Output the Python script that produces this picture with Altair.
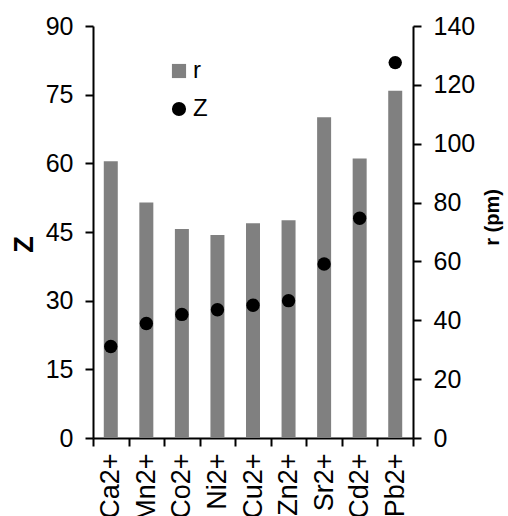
import altair as alt
import pandas as pd

# Divalent metal ions: ionic radius r (pm, bars) and atomic number Z (dots)
ions = ["Ca2+", "Mn2+", "Co2+", "Ni2+", "Cu2+", "Zn2+", "Sr2+", "Cd2+", "Pb2+"]
radius_pm = [94, 80, 71, 69, 73, 74, 109, 95, 118]
atomic_number = [20, 25, 27, 28, 29, 30, 38, 48, 82]

z_ticks = [0, 15, 30, 45, 60, 75, 90]
r_ticks = [0, 20, 40, 60, 80, 100, 120, 140]

series_names = ["r", "Z"]
series_colors = ["#808080", "#000000"]
series_shapes = ["square", "circle"]

df = pd.DataFrame({"ion": ions, "r": radius_pm, "Z": atomic_number})

FONT = "Liberation Sans"


def series_legend():
    # one shared legend for the bar and dot series, placed inside the plot
    return alt.Legend(
        title=None,
        orient="none",
        legendX=74,
        legendY=33,
        symbolSize=200,
        symbolStrokeWidth=0,
        labelFontSize=24,
        labelOffset=2,
        rowPadding=14,
        padding=0,
    )


x_enc = alt.X(
    "ion:N",
    sort=ions,
    title=None,
    scale=alt.Scale(paddingInner=0, paddingOuter=0),
    axis=alt.Axis(
        tickBand="extent",
        labelAngle=-90,
        labelFontSize=27,
        labelPadding=7,
        tickSize=8,
        tickWidth=2,
        domainWidth=2,
    ),
)

color_enc = alt.Color(
    "series:N",
    scale=alt.Scale(domain=series_names, range=series_colors),
    legend=series_legend(),
)

bars = (
    alt.Chart(df)
    .transform_calculate(series="'r'")
    .mark_bar(size=14)
    .encode(
        x=x_enc,
        y=alt.Y(
            "r:Q",
            scale=alt.Scale(domain=[0, 140], nice=False),
            axis=alt.Axis(
                orient="right",
                values=r_ticks,
                title="r (pm)",
                titleFontSize=20,
                titleFontWeight="bold",
                titleAngle=270,
                titleAlign="center",
                titleBaseline="middle",
                titleX=79,
                titleY=191,
                labelFontSize=25,
                labelPadding=12,
                tickSize=8,
                tickWidth=2,
                domainWidth=2,
            ),
        ),
        color=color_enc,
    )
)

dots = (
    alt.Chart(df)
    .transform_calculate(series="'Z'")
    .mark_point(filled=True, opacity=1, size=180)
    .encode(
        x=x_enc,
        y=alt.Y(
            "Z:Q",
            scale=alt.Scale(domain=[0, 90], nice=False),
            axis=alt.Axis(
                orient="left",
                values=z_ticks,
                title="Z",
                titleFontSize=27,
                titleFontWeight="bold",
                titleAngle=270,
                titleAlign="center",
                titleBaseline="middle",
                titleX=-69,
                titleY=218,
                labelFontSize=25,
                labelPadding=12,
                tickSize=8,
                tickWidth=2,
                domainWidth=2,
            ),
        ),
        color=color_enc,
        shape=alt.Shape(
            "series:N",
            scale=alt.Scale(domain=series_names, range=series_shapes),
            legend=series_legend(),
        ),
    )
)

chart = (
    alt.layer(bars, dots)
    .resolve_scale(y="independent")
    .properties(
        width=320,
        height=412,
        autosize=alt.AutoSizeParams(type="none"),
        padding={"left": 93, "top": 26, "right": 95, "bottom": 78},
    )
    .configure(font=FONT)
    .configure_view(stroke=None)
    .configure_axis(
        grid=False,
        domainColor="black",
        tickColor="black",
        labelColor="black",
        titleColor="black",
        labelFont=FONT,
        titleFont=FONT,
    )
    .configure_legend(labelFont=FONT, labelColor="black", labelFontSize=24, symbolSize=200)
)

chart.save("out.html", embed_options={"renderer": "svg", "actions": False})
